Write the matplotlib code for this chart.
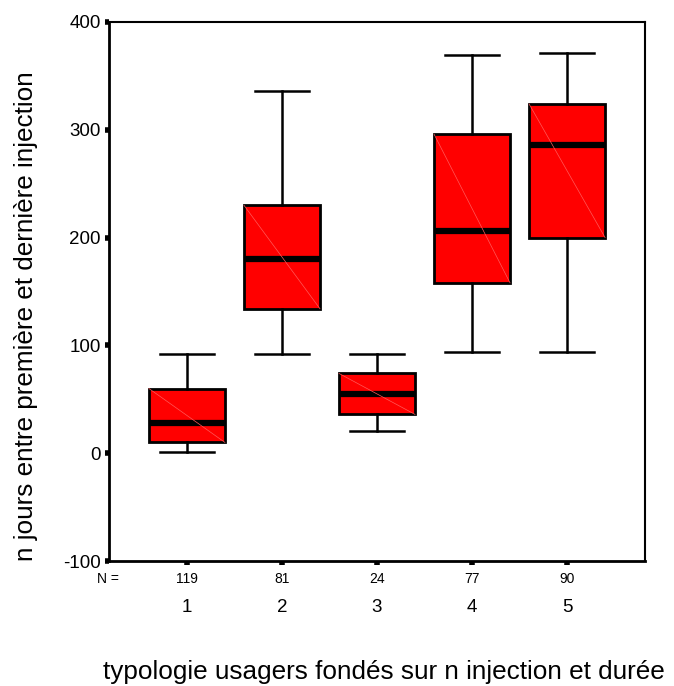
import matplotlib
matplotlib.use("Agg")
import matplotlib.pyplot as plt
from matplotlib.transforms import blended_transform_factory

plt.rcParams['font.family'] = ['Liberation Sans', 'DejaVu Sans']

# typologie groups and box statistics
groups = [1, 2, 3, 4, 5]
counts = [119, 81, 24, 77, 90]
whisker_low = [1, 92, 21, 94, 94]
q1 = [10, 134, 36, 158, 200]
median = [28, 180, 55, 206, 286]
q3 = [60, 230, 74, 296, 324]
whisker_high = [92, 336, 92, 369, 371]

stats = []
for i in range(len(groups)):
    stats.append({
        'whislo': whisker_low[i], 'q1': q1[i], 'med': median[i],
        'q3': q3[i], 'whishi': whisker_high[i], 'fliers': [],
    })

fig = plt.figure(figsize=(6.74, 6.86), dpi=100)
ax = fig.add_axes([109 / 674, 125 / 686, 536 / 674, 539 / 686])

ax.bxp(stats, positions=groups, widths=0.8, capwidths=0.56,
       showfliers=False, patch_artist=True,
       boxprops=dict(facecolor='#ff0000', edgecolor='black', linewidth=2),
       medianprops=dict(color='black', linewidth=4.5, solid_capstyle='butt'),
       whiskerprops=dict(color='black', linewidth=1.8),
       capprops=dict(color='black', linewidth=1.8))

# faint diagonal inside each box
for i in range(len(groups)):
    ax.plot([groups[i] - 0.4, groups[i] + 0.4], [q3[i], q1[i]],
            color='#ff5a5a', linewidth=0.5, zorder=3)

ax.set_xlim(0.18, 5.82)
ax.set_ylim(-100, 400)
ax.set_yticks([-100, 0, 100, 200, 300, 400])
ax.set_yticklabels(['-100', '0', '100', '200', '300', '400'], fontsize=13.5)
ax.set_xticks(groups)
ax.set_xticklabels([str(c) for c in counts], fontsize=10)
ax.tick_params(axis='both', direction='out', length=3, width=4, color='black', pad=3)
ax.tick_params(axis='x', pad=5)

for side in ['left', 'bottom']:
    ax.spines[side].set_linewidth(2)
for side in ['top', 'right']:
    ax.spines[side].set_linewidth(1.5)

trans = blended_transform_factory(ax.transData, ax.transAxes)
for i in range(len(groups)):
    ax.text(groups[i], -0.087, str(groups[i]), transform=trans,
            ha='center', va='center', fontsize=13.5)
ax.text(-0.002, -0.033, 'N =', transform=ax.transAxes,
        ha='center', va='center', fontsize=10)

ax.set_ylabel('n jours entre première et dernière injection', fontsize=18.8)
ax.yaxis.set_label_coords(-0.133, 0.455)
ax.set_xlabel('typologie usagers fondés sur n injection et durée', fontsize=18.8)
ax.xaxis.set_label_coords(0.513, -0.183)

fig.savefig('out.png', dpi=100)
